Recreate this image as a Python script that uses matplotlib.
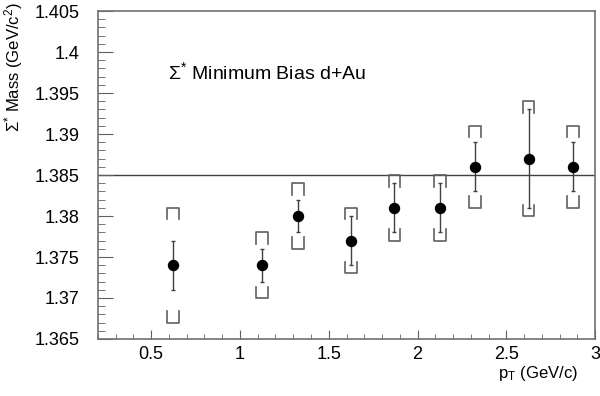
import numpy as np
import matplotlib
matplotlib.use('Agg')
import matplotlib.pyplot as plt
from matplotlib.ticker import MultipleLocator

plt.rcParams['font.family'] = ['Liberation Sans', 'DejaVu Sans']
plt.rcParams['mathtext.fontset'] = 'custom'
plt.rcParams['mathtext.rm'] = 'Liberation Sans'
plt.rcParams['mathtext.it'] = 'Liberation Sans:italic'

# Sigma* mass vs pT
pt = [0.625, 1.125, 1.325, 1.625, 1.87, 2.125, 2.325, 2.625, 2.875]
mass = [1.374, 1.374, 1.380, 1.377, 1.381, 1.381, 1.386, 1.387, 1.386]
stat = [0.003, 0.002, 0.002, 0.003, 0.003, 0.003, 0.003, 0.006, 0.003]
syst = [0.007, 0.004, 0.004, 0.004, 0.004, 0.004, 0.005, 0.007, 0.005]
pdg_mass = 1.385

fig = plt.figure(figsize=(6, 3.96), dpi=100)
ax = fig.add_axes([0.163, 0.144, 0.829, 0.828])

ax.axhline(pdg_mass, color='#404040', lw=1.0, zorder=1)

# systematic brackets
w = 0.033
h = 0.0014
for x, y, s in zip(pt, mass, syst):
    ax.plot([x - w, x - w, x + w, x + w], [y + s - h, y + s, y + s, y + s - h],
            color='#606060', lw=1.2, zorder=2)
    ax.plot([x - w, x - w, x + w, x + w], [y - s + h, y - s, y - s, y - s + h],
            color='#606060', lw=1.2, zorder=2)

ax.errorbar(pt, mass, yerr=stat, fmt='o', color='black', ms=7.2,
            ecolor='#404040', elinewidth=1.0, capsize=1.5, capthick=1.0, zorder=3)

ax.set_xlim(0.2, 3.0)
ax.set_ylim(1.365, 1.405)
ax.xaxis.set_major_locator(MultipleLocator(0.5))
ax.xaxis.set_minor_locator(MultipleLocator(0.1))
ax.yaxis.set_major_locator(MultipleLocator(0.005))
ax.yaxis.set_minor_locator(MultipleLocator(0.001))
ax.set_xticks([0.5, 1, 1.5, 2, 2.5, 3])
ax.set_xticklabels(['0.5', '1', '1.5', '2', '2.5', '3'])
ax.set_yticks([1.365, 1.37, 1.375, 1.38, 1.385, 1.39, 1.395, 1.4, 1.405])
ax.set_yticklabels(['1.365', '1.37', '1.375', '1.38', '1.385', '1.39', '1.395', '1.4', '1.405'])

ax.tick_params(axis='both', which='both', direction='in', color='#606060',
               top=False, right=False, labelsize=13)
ax.tick_params(axis='y', which='major', length=10.5, pad=13)
ax.tick_params(axis='y', which='minor', length=5.2)
ax.tick_params(axis='x', which='major', length=6.5, pad=5)
ax.tick_params(axis='x', which='minor', length=3.3)
for sp in ax.spines.values():
    sp.set_color('#707070')
    sp.set_linewidth(1.2)

ax.set_xlabel(r'p$_{\mathrm{T}}$ (GeV/c)', fontsize=12, ha='right')
ax.xaxis.set_label_coords(0.966, -0.075)
ax.set_ylabel(r'Σ$^{*}$ Mass (GeV/c$^{2}$)', fontsize=12, ha='right')
ax.yaxis.set_label_coords(-0.146, 1.027)

ax.text(0.141, 0.814, r'Σ$^{*}$ Minimum Bias d+Au', transform=ax.transAxes,
        fontsize=14, ha='left', va='center')

fig.savefig('out.png', dpi=100)
